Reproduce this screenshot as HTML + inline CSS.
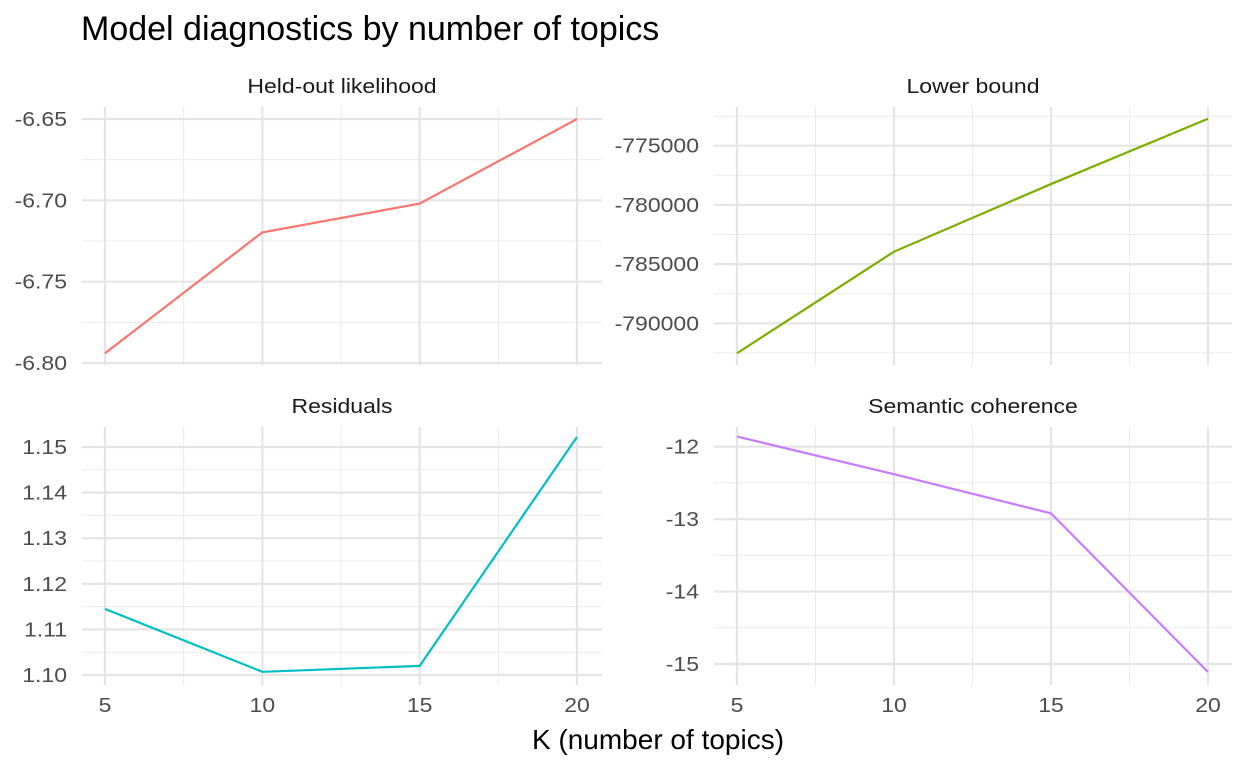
<!DOCTYPE html>
<html><head><meta charset="utf-8"><style>
body{margin:0;background:#fff;}
svg{display:block;font-family:"Liberation Sans",Arial,sans-serif;}
</style></head><body>
<svg id="chart" width="1248" height="768">
<text x="81" y="40" font-size="34" fill="#000">Model diagnostics by number of topics</text>
<text x="658" y="749" font-size="28" fill="#000" text-anchor="middle">K (number of topics)</text>
</svg>
<script>
const kValues = [5, 10, 15, 20];
const heldout = [-6.794, -6.7197, -6.702, -6.65];
const bound = [-792530, -783950, -778240, -772720];
const residuals = [1.1145, 1.1007, 1.102, 1.1522];
const semcoh = [-11.86, -12.38, -12.92, -15.11];
const heldoutTicks = [-6.65, -6.70, -6.75, -6.80];
const boundTicks = [-775000, -780000, -785000, -790000];
const residTicks = [1.15, 1.14, 1.13, 1.12, 1.11, 1.10];
const semTicks = [-12, -13, -14, -15];
const xTicks = [5, 10, 15, 20];

const svg = document.getElementById('chart');
const NS = 'http://www.w3.org/2000/svg';
function mk(tag, attrs){const e=document.createElementNS(NS,tag);for(const k in attrs)e.setAttribute(k,attrs[k]);svg.appendChild(e);return e;}
function label(x,y,str,size,anchor,fill){
  const e=mk('text',{x:0,y:0,transform:'translate('+x+','+y+') scale(1.15,1)','font-size':size,'text-anchor':anchor,fill:fill});
  e.textContent=str;return e;
}

function panel(p){
  const xs = v => p.px0 + (v-5)/15*(p.px1-p.px0);
  const ys = v => p.ya + (v-p.va)/(p.vb-p.va)*(p.yb-p.ya);
  const t = label((p.left+p.right)/2,p.top-14,p.title,20,'middle','#1a1a1a');
  
  
  for(let i=0;i<xTicks.length-1;i++){
    const v=(xTicks[i]+xTicks[i+1])/2;
    const l=mk('line',{x1:xs(v),x2:xs(v),y1:p.top,y2:p.bottom,stroke:'#ebebeb','stroke-width':1});
    
    
  }
  const step = p.ticks[0]-p.ticks[1];
  for(let i=-1;i<p.ticks.length;i++){
    const v = p.ticks[Math.max(i,0)] + (i<0? step/2 : -step/2);
    const y=ys(v);
    if(y<p.top-1||y>p.bottom+1) continue;
    const l=mk('line',{x1:p.left,x2:p.right,y1:y,y2:y,stroke:'#ebebeb','stroke-width':1});
    
    
  }
  p.ticks.forEach(v=>{
    const y=ys(v);
    const l=mk('line',{x1:p.left,x2:p.right,y1:y,y2:y,stroke:'#e5e5e5','stroke-width':2.2});
    
    
    const tx=label(p.left-15,y+7,p.fmt(v),20,'end','#4d4d4d');
    
    
  });
  xTicks.forEach(v=>{
    const l=mk('line',{x1:xs(v),x2:xs(v),y1:p.top,y2:p.bottom,stroke:'#e5e5e5','stroke-width':2.2});
    
    
    if(p.xlabels){
      const tx=label(xs(v),p.bottom+27,String(v),20,'middle','#4d4d4d');
      
      
    }
  });
  const d = kValues.map((k,i)=>(i?'L':'M')+xs(k)+' '+ys(p.data[i])).join(' ');
  const path=mk('path',{d:d,fill:'none',stroke:p.color,'stroke-width':2.2});
  
  
}

panel({name:'heldout-likelihood',title:'Held-out likelihood',left:82,right:602,top:107,bottom:365,px0:105,px1:577,
  va:-6.65,ya:119,vb:-6.80,yb:363,ticks:heldoutTicks,fmt:v=>v.toFixed(2),data:heldout,color:'#f8766d',xlabels:false});
panel({name:'lower-bound',title:'Lower bound',left:714,right:1232,top:107,bottom:365,px0:737,px1:1208,
  va:-775000,ya:145.7,vb:-790000,yb:323.3,ticks:boundTicks,fmt:v=>String(v),data:bound,color:'#7cae00',xlabels:false});
panel({name:'residuals',title:'Residuals',left:82,right:602,top:427,bottom:685,px0:105,px1:577,
  va:1.15,ya:447,vb:1.10,yb:675,ticks:residTicks,fmt:v=>v.toFixed(2),data:residuals,color:'#00bfc4',xlabels:true});
panel({name:'semantic-coherence',title:'Semantic coherence',left:714,right:1232,top:427,bottom:685,px0:737,px1:1208,
  va:-12,ya:446.7,vb:-15,yb:664,ticks:semTicks,fmt:v=>String(v),data:semcoh,color:'#c77cff',xlabels:true});
</script>
</body></html>
